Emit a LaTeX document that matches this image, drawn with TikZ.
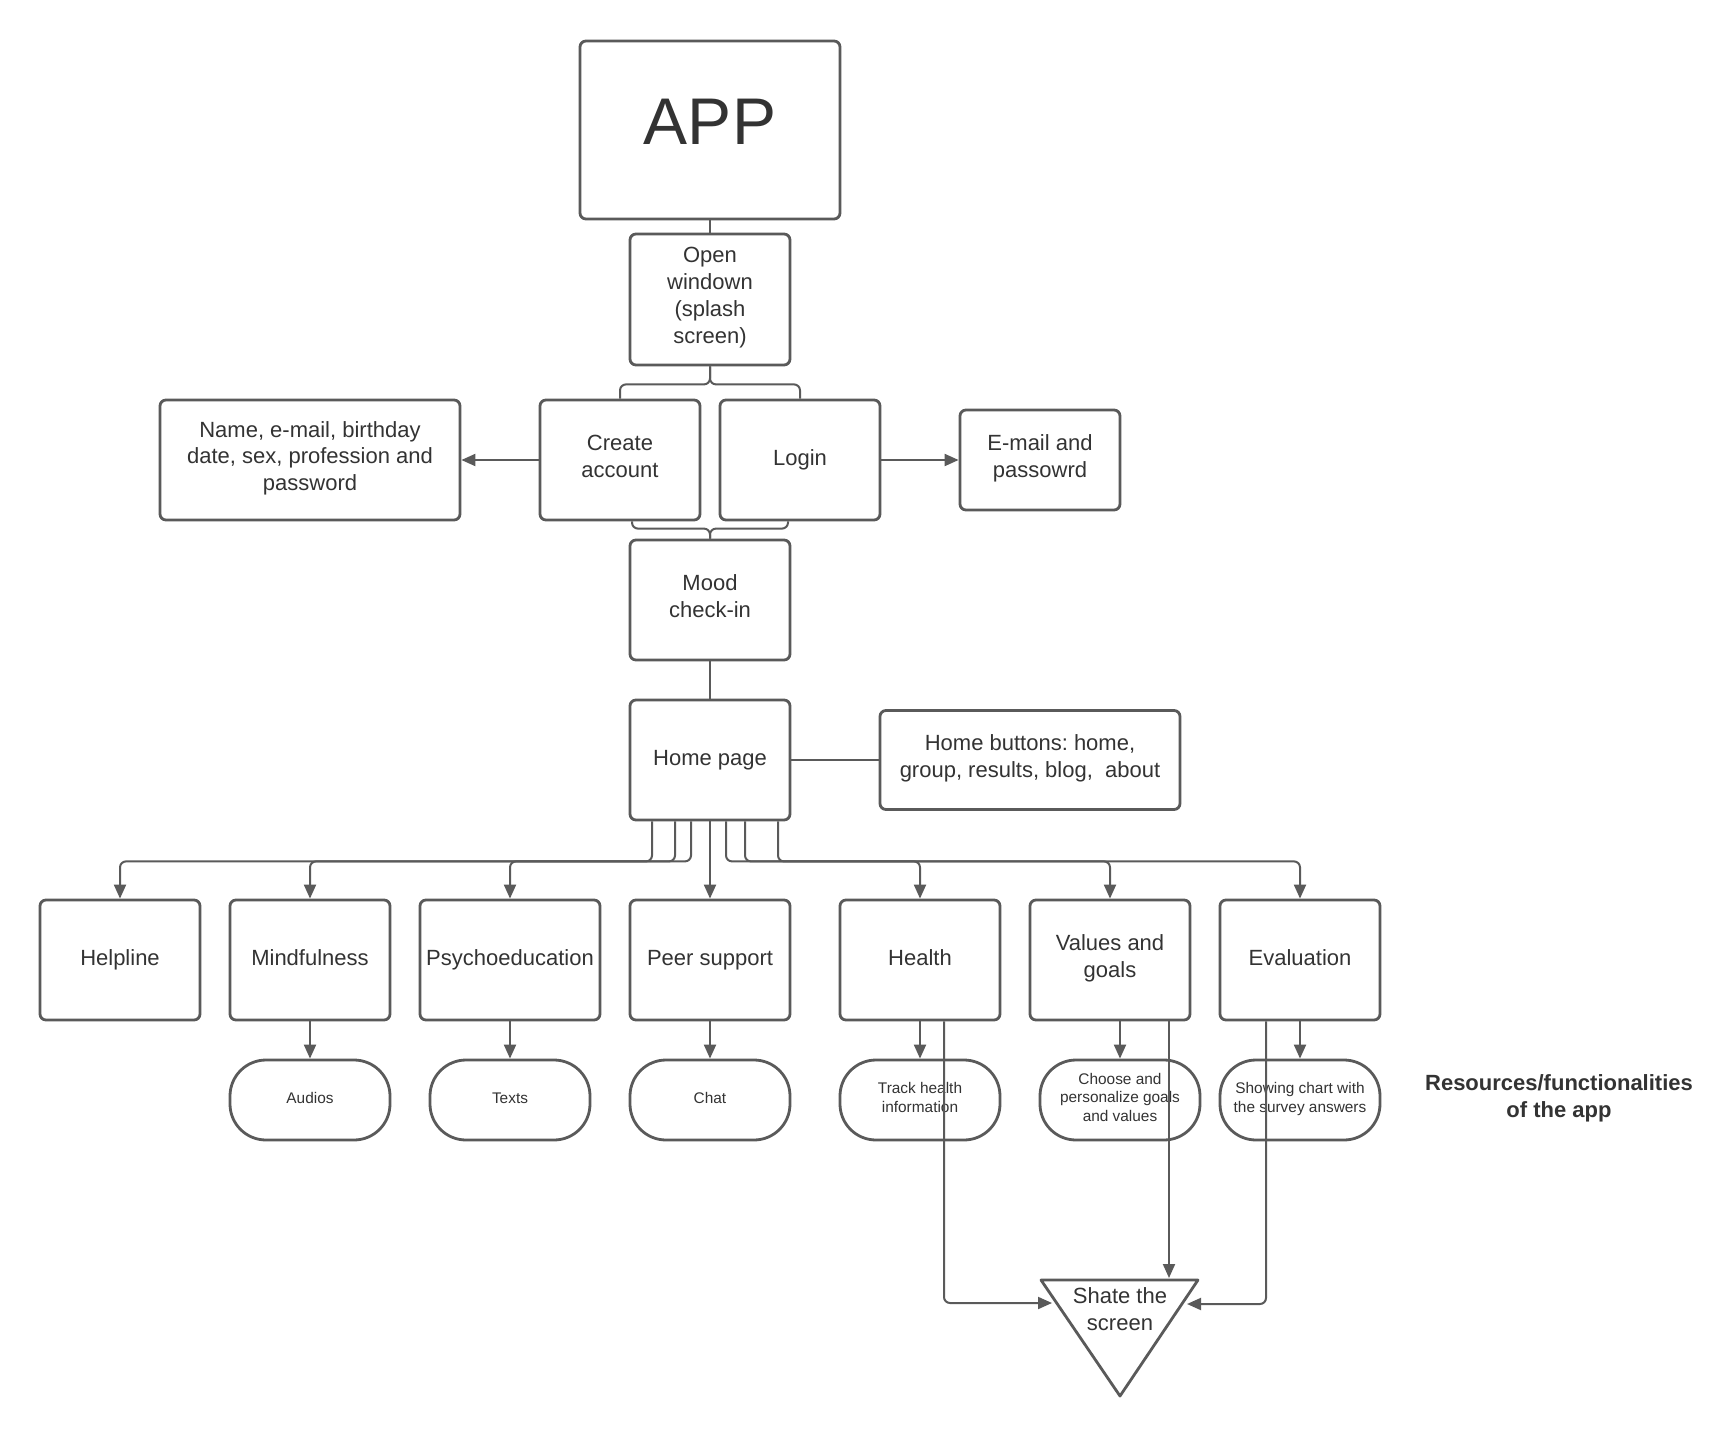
\documentclass[tikz,border=0pt]{standalone}
\usepackage{fontspec}
\setmainfont{Liberation Sans}
\usetikzlibrary{arrows.meta}
\definecolor{ln}{HTML}{5A5A5A}
\definecolor{tx}{HTML}{333333}
\frenchspacing

\begin{document}
\begin{tikzpicture}[x=0.5pt,y=-0.5pt,
  box/.style={draw=ln, line width=1.4pt, rounded corners=3pt, align=center, text=tx,
    inner sep=0pt, font=\fontsize{11}{13.4}\selectfont,
    minimum width=80pt, minimum height=60pt, fill=white,
    execute at begin node=\strut, execute at end node=\strut},
  pill/.style={draw=ln, line width=1.4pt, rounded corners=18pt, align=center, text=tx,
    inner sep=0pt, font=\fontsize{7.7}{9.3}\selectfont,
    minimum width=80pt, minimum height=40pt, fill=white,
    execute at begin node=\strut, execute at end node=\strut},
  link/.style={draw=ln, line width=1pt, rounded corners=3pt},
  arr/.style={link, -{Triangle[length=7pt,width=6pt]}},
  label/.style={text=tx, align=center, inner sep=0pt},
]
% page
\fill[white] (0,0) rectangle (1720,1440);
\useasboundingbox (0,0) rectangle (1720,1440);

% start of the flow
\node[box, minimum width=130pt, minimum height=89pt, font=\fontsize{33}{36}\selectfont] (app) at (710,130) {APP};
\node[box, minimum height=65.5pt] (open) at (710,299.5) {Open\\windown\\(splash\\screen)};
\node[box, minimum width=150pt] (name) at (310,460) {Name, e-mail, birthday\\date, sex, profession and\\password};
\node[box] (create) at (620,460) {Create\\account};
\node[box] (login) at (800,460) {Login};
\node[box, minimum height=50pt] (email) at (1040,460) {E-mail and\\passowrd};
\node[box] (mood) at (710,600) {Mood\\check-in};
\node[box] (home) at (710,760) {Home page};
\node[box, minimum width=150pt, minimum height=49.5pt] (buttons) at (1030,760) {Home buttons: home,\\group, results, blog,\ \ about};

% main sections
\node[box] (help) at (120,960) {Helpline};
\node[box] (mind) at (310,960) {Mindfulness};
\node[box, minimum width=90pt] (psy) at (510,960) {Psychoeducation};
\node[box] (peer) at (710,960) {Peer support};
\node[box] (health) at (920,960) {Health};
\node[box] (values) at (1110,960) {Values and\\goals};
\node[box] (eval) at (1300,960) {Evaluation};

% resources
\node[pill] (audios) at (310,1100) {Audios};
\node[pill] (texts) at (510,1100) {Texts};
\node[pill] (chat) at (710,1100) {Chat};
\node[pill] (track) at (920,1100) {Track health\\information};
\node[pill] (choose) at (1120,1100) {Choose and\\personalize goals\\and values};
\node[pill] (chart) at (1300,1100) {Showing chart with\\the survey answers};

% share screen (inverted triangle)
\coordinate (tl) at (1041,1280);
\coordinate (tr) at (1198,1280);
\coordinate (tb) at (1120,1396);
\draw[draw=ln, line width=1.4pt, line join=round, fill=white] (tl) -- (tr) -- (tb) -- cycle;
\node[label, font=\fontsize{11}{13.5}\selectfont] (share) at (1120,1309) {Shate the\\screen};
\coordinate (sl) at (1052,1303);
\coordinate (st) at (1169,1278);
\coordinate (sr) at (1187,1304);

\node[label, font=\bfseries\fontsize{11}{13.5}\selectfont] (res) at (1559,1098) {Resources/functionalities\\of the app};

% connectors
\draw[link] (app) -- (open);
\draw[link] (open.south) -- ++(0,18) -| (create.north);
\draw[link] (open.south) -- ++(0,18) -| (login.north);
\draw[link] ([xshift=6pt]create.south) |- ([yshift=5pt]mood.north) -- (mood.north);
\draw[link] ([xshift=-6pt]login.south) |- ([yshift=5pt]mood.north) -- (mood.north);
\draw[arr] (create) -- (name);
\draw[arr] (login) -- (email);
\draw[link] (mood) -- (home);
\draw[link] (home) -- (buttons);

\draw[arr] ([xshift=-29pt]home.south) -- ++(0,40) -| (help.north);
\draw[arr] ([xshift=-17.5pt]home.south) -- ++(0,40) -| (mind.north);
\draw[arr] ([xshift=-9.5pt]home.south) -- ++(0,40) -| (psy.north);
\draw[arr] (home) -- (peer);
\draw[arr] ([xshift=8pt]home.south) -- ++(0,40) -| (health.north);
\draw[arr] ([xshift=17.5pt]home.south) -- ++(0,40) -| (values.north);
\draw[arr] ([xshift=34pt]home.south) -- ++(0,40) -| (eval.north);

\draw[arr] (mind) -- (audios);
\draw[arr] (psy) -- (texts);
\draw[arr] (peer) -- (chat);
\draw[arr] (health) -- (track);
\draw[arr] (values.south -| choose.north) -- (choose.north);
\draw[arr] (eval) -- (chart);

\draw[arr] ([xshift=12pt]health.south) |- (sl);
\draw[arr] ([xshift=29.5pt]values.south) -- (st);
\draw[arr] ([xshift=-17pt]eval.south) |- (sr);
\end{tikzpicture}
\end{document}
